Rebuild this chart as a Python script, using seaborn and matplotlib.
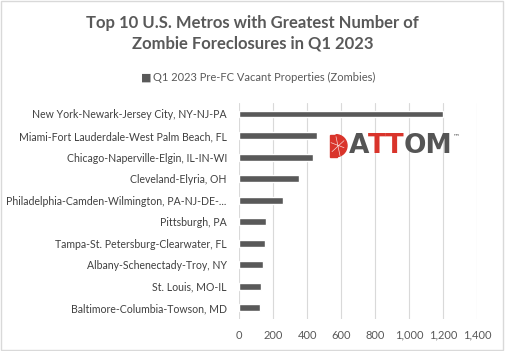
import pandas as pd
import numpy as np
import matplotlib.pyplot as plt
import matplotlib.patches as mpatches
import seaborn as sns

# Chart data
metros = [
    "New York-Newark-Jersey City, NY-NJ-PA",
    "Miami-Fort Lauderdale-West Palm Beach, FL",
    "Chicago-Naperville-Elgin, IL-IN-WI",
    "Cleveland-Elyria, OH",
    "Philadelphia-Camden-Wilmington, PA-NJ-DE-...",
    "Pittsburgh, PA",
    "Tampa-St. Petersburg-Clearwater, FL",
    "Albany-Schenectady-Troy, NY",
    "St. Louis, MO-IL",
    "Baltimore-Columbia-Towson, MD",
]
zombies = [1198, 455, 431, 349, 254, 156, 150, 138, 127, 121]
x_ticks = [0, 200, 400, 600, 800, 1000, 1200, 1400]
series_name = "Q1 2023 Pre-FC Vacant Properties (Zombies)"

df = pd.DataFrame({"metro": metros, "count": zombies})

sns.set_style("white")
plt.rcParams['font.family'] = ['Lato', 'DejaVu Sans']

fig = plt.figure(figsize=(5.05, 3.51), dpi=100)
ax = fig.add_axes([0.474, 0.092, 0.471, 0.614])

bar_col = "#595959"
sns.barplot(data=df, x="count", y="metro", color=bar_col, width=0.32,
            saturation=1, ax=ax)

ax.set_xlim(0, 1400)
ax.set_xticks(x_ticks)
ax.set_xticklabels([f"{v:,}" for v in x_ticks], fontsize=8, color="#595959")
ax.tick_params(axis="y", labelsize=7.6, labelcolor="#404040", length=0, pad=9)
ax.tick_params(axis="x", length=0, pad=8)
ax.set_xlabel("")
ax.set_ylabel("")
ax.grid(axis="x", color="#d9d9d9", linewidth=0.8)
ax.set_axisbelow(True)
for s in ax.spines.values():
    s.set_visible(False)

# title and legend
fig.text(0.5, 0.905, "Top 10 U.S. Metros with Greatest Number of\nZombie Foreclosures in Q1 2023",
         ha="center", va="center", fontsize=12, fontweight="bold", color="#595959",
         linespacing=1.3)
fig.text(0.29, 0.78, "\u25A0", ha="center", va="center", fontsize=8, color=bar_col)
fig.text(0.302, 0.78, series_name, ha="left", va="center", fontsize=8, color="#595959")

# ATTOM logo: icon + coloured letters placed one after another
red = "#d9342b"
grey = "#555555"
logo_y = 0.585
px = fig.dpi_scale_trans + plt.matplotlib.transforms.Affine2D()  # inches
cy_in = logo_y * 3.51
fig.patches.append(mpatches.Wedge((336 / 100, cy_in), 0.11, -90, 90,
                                  transform=fig.dpi_scale_trans, color=red))
fig.patches.append(mpatches.Rectangle((330 / 100, cy_in - 0.11), 0.065, 0.22,
                                      transform=fig.dpi_scale_trans, color=red))
for (x0, y0, x1, y1) in [(3.31, cy_in + 0.03, 3.44, cy_in - 0.02),
                         (3.36, cy_in + 0.09, 3.40, cy_in - 0.10),
                         (3.32, cy_in - 0.06, 3.44, cy_in + 0.05)]:
    fig.lines.append(plt.Line2D([x0, x1], [y0, y1], transform=fig.dpi_scale_trans,
                                color="white", linewidth=0.5, alpha=0.8))
renderer = fig.canvas.get_renderer()
x_px = 349
for part, col in [("A", grey), ("TT", red), ("OM", grey)]:
    t = fig.text(x_px / 505, logo_y, part, ha="left", va="center", fontsize=19,
                 fontweight="bold", color=col, family="DejaVu Sans")
    bb = t.get_window_extent(renderer)
    x_px += bb.width - 1
fig.text((x_px + 1) / 505, logo_y + 0.028, "\u2122", ha="left", va="center",
         fontsize=5, color=grey, family="DejaVu Sans")

# chart border
fig.patches.append(mpatches.Rectangle((0.002, 0.003), 0.995, 0.993, transform=fig.transFigure,
                                      fill=False, edgecolor="#d9d9d9", linewidth=1))

fig.savefig("out.png", dpi=100)
